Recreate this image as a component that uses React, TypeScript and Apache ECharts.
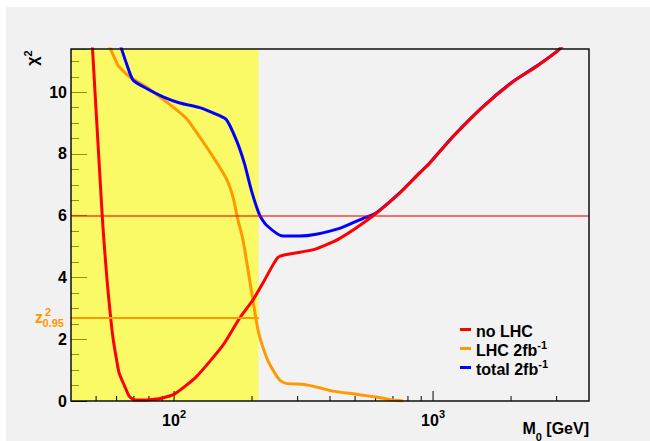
import { useEffect, useRef } from "react";
import * as echarts from "echarts";

const FONT = "'Liberation Sans', Arial, Helvetica, sans-serif";

// Axis ranges
const massRange = [40, 4000];
const chi2Range = [0, 11.4];

// Series names as drawn in the legend
const seriesNames = ["no LHC", "LHC 2fb-1", "total 2fb-1"];

// no LHC
const noLhcMass = [47.9, 50, 52.8, 53.6, 55.2, 56.9, 58.2, 59.8, 61.4, 64.6, 67.1, 70.6, 80, 89.4, 100.6, 122, 154.5, 179, 201.6, 223.7, 251.6, 279, 348.7, 435, 585, 741, 885, 968, 1191, 1555, 2029, 2495, 3020, 3200];
const noLhcChi2 = [12.1, 9.4, 6.0, 5.2, 3.85, 2.7, 2.0, 1.4, 0.9, 0.46, 0.16, 0.03, 0.04, 0.09, 0.23, 0.79, 1.81, 2.68, 3.27, 3.92, 4.65, 4.76, 4.91, 5.26, 5.99, 6.72, 7.37, 7.69, 8.55, 9.52, 10.33, 10.82, 11.33, 11.55];

// LHC 2 fb^-1
const lhcMass = [55.3, 56.9, 60.8, 67.4, 78.3, 88.1, 99.1, 111.6, 125.6, 141.4, 159, 168.8, 176.5, 184.6, 198.7, 210.9, 227, 240.8, 255.6, 271, 314, 364.6, 410, 504, 621, 698, 765];
const lhcChi2 = [11.6, 11.4, 10.87, 10.5, 10.17, 9.85, 9.52, 9.15, 8.55, 7.91, 7.21, 6.61, 5.86, 5.21, 3.59, 2.3, 1.43, 1.0, 0.68, 0.57, 0.54, 0.43, 0.32, 0.22, 0.11, 0.03, 0.0];

// total 2 fb^-1
const totalMass = [61.2, 62.7, 65.5, 69.5, 78.3, 90.7, 105.2, 125.6, 141.4, 159, 174, 187, 198.7, 214, 227, 263, 305, 354, 435, 535, 600, 741, 885, 968, 1191, 1555, 2029, 2495, 3020, 3200];
const totalChi2 = [11.66, 11.4, 10.93, 10.39, 10.12, 9.85, 9.65, 9.5, 9.33, 9.12, 8.45, 7.69, 6.83, 6.02, 5.7, 5.34, 5.34, 5.4, 5.59, 5.91, 6.08, 6.73, 7.38, 7.7, 8.56, 9.53, 10.34, 10.83, 11.34, 11.56];

// Shaded mass band, reference levels
const excludedBand = [40, 212];
const chi2Threshold = 6;
const z2Level = 2.71;

// Mass axis ticks (GeV)
const majorMassTicks = [100, 1000];
const minorMassTicks = [50, 60, 70, 80, 90, 200, 300, 400, 500, 600, 700, 800, 900, 2000, 3000];

const RED = "#ff0000";
const ORANGE = "#ff9900";
const BLUE = "#0000ff";

const zip = (xs: number[], ys: number[]) => xs.map((x, i) => [x, ys[i]]);

const legendRich: Record<string, string> = {
  "no LHC": "{t|no LHC}",
  "LHC 2fb-1": "{t|LHC 2fb}{s|-1}",
  "total 2fb-1": "{t|total 2fb}{s|-1}",
};

export default function App() {
  const ref = useRef<HTMLDivElement>(null);

  useEffect(() => {
    if (!ref.current) return;
    const chart = echarts.init(ref.current, null, { renderer: "svg" });

    const lineSeries = (name: string, color: string, data: number[][], extra: any = {}) => ({
      type: "line",
      name,
      data,
      showSymbol: false,
      symbol: "none",
      smooth: 0.2,
      clip: true,
      silent: true,
      color,
      lineStyle: { color, width: 3 },
      emphasis: { disabled: true },
      z: 2,
      ...extra,
    });

    const option: any = {
      animation: false,
      backgroundColor: "#f1f1f1",
      textStyle: { fontFamily: FONT },
      grid: {
        left: 65,
        top: 42,
        width: 518,
        height: 352,
        show: true,
        backgroundColor: "#f2f2f2",
        borderWidth: 0,
        containLabel: false,
        outerBoundsMode: "none",
      },
      legend: {
        data: seriesNames,
        orient: "vertical",
        left: 454,
        top: 316,
        padding: 0,
        itemGap: 0,
        itemWidth: 11,
        itemHeight: 3,
        icon: "rect",
        selectedMode: false,
        itemStyle: { borderWidth: 0 },
        formatter: (name: string) => legendRich[name] ?? name,
        textStyle: {
          color: "#000",
          fontFamily: FONT,
          fontSize: 16,
          fontWeight: "bold",
          rich: {
            t: { fontFamily: FONT, fontSize: 16, fontWeight: "bold", color: "#000", lineHeight: 19, verticalAlign: "bottom" },
            s: { fontFamily: FONT, fontSize: 11, fontWeight: "bold", color: "#000", lineHeight: 11, verticalAlign: "top" },
          },
        },
      },
      xAxis: {
        type: "log",
        logBase: 10,
        min: massRange[0],
        max: massRange[1],
        axisLine: { show: false },
        axisTick: { show: false },
        minorTick: { show: false },
        splitLine: { show: false },
        axisLabel: {
          show: true,
          margin: 7,
          showMinLabel: false,
          showMaxLabel: false,
          formatter: (v: number) => {
            const e = Math.log10(v);
            const r = Math.round(e);
            if (Math.abs(e - r) > 1e-6) return "";
            return "{b|10}{s|" + r + "}";
          },
          rich: {
            b: { fontFamily: FONT, fontSize: 16, fontWeight: "bold", color: "#000", lineHeight: 20, verticalAlign: "bottom" },
            s: { fontFamily: FONT, fontSize: 11, fontWeight: "bold", color: "#000", lineHeight: 8, verticalAlign: "top" },
          },
        },
      },
      yAxis: [
        {
          type: "value",
          position: "left",
          min: chi2Range[0],
          max: chi2Range[1],
          interval: 0.5,
          axisLine: { show: false },
          axisTick: { show: true, inside: true, length: 8, lineStyle: { color: "#000", width: 1 } },
          axisLabel: { show: false },
          splitLine: { show: false },
        },
        {
          type: "value",
          position: "left",
          offset: 0,
          min: chi2Range[0],
          max: chi2Range[1],
          interval: 2,
          axisLine: { show: false },
          axisTick: { show: true, inside: true, length: 16, lineStyle: { color: "#000", width: 1 } },
          axisLabel: {
            show: true,
            margin: 4,
            color: "#000",
            fontFamily: FONT,
            fontSize: 16,
            fontWeight: "bold",
            formatter: (v: number) => (Math.abs(v / 2 - Math.round(v / 2)) < 1e-6 ? String(v) : ""),
          },
          splitLine: { show: false },
        },
      ],
      series: [
        // mass-axis tick marks, kept under the shaded band
        {
          type: "custom",
          name: "massTicks",
          silent: true,
          z: 1,
          data: [[100, 1]],
          renderItem: (_params: any, api: any) => {
            const children: any[] = [];
            const add = (m: number, len: number) => {
              const p = api.coord([m, chi2Range[0]]);
              children.push({
                type: "line",
                shape: { x1: p[0], y1: p[1], x2: p[0], y2: p[1] - len },
                style: { stroke: "#000", lineWidth: 1 },
              });
            };
            majorMassTicks.forEach((m) => add(m, 10));
            minorMassTicks.forEach((m) => add(m, 5));
            return { type: "group", children };
          },
        },
        lineSeries(seriesNames[1], ORANGE, zip(lhcMass, lhcChi2), {
          markArea: {
            silent: true,
            itemStyle: { color: "rgba(255,255,0,0.58)", borderWidth: 0 },
            label: { show: false },
            data: [[{ xAxis: excludedBand[0] }, { xAxis: excludedBand[1] }]],
          },
          markLine: {
            silent: true,
            symbol: ["none", "none"],
            label: { show: false },
            emphasis: { disabled: true },
            data: [
              { yAxis: chi2Threshold, lineStyle: { color: "rgba(255,0,0,0.55)", width: 2, type: "solid" } },
              [
                { coord: [excludedBand[0], z2Level], lineStyle: { color: ORANGE, width: 2, type: "solid" } },
                { coord: [excludedBand[1], z2Level] },
              ],
            ],
          },
        }),
        lineSeries(seriesNames[2], BLUE, zip(totalMass, totalChi2)),
        lineSeries(seriesNames[0], RED, zip(noLhcMass, noLhcChi2)),
        // plot frame and the z^2_0.95 level label
        {
          type: "custom",
          name: "frame",
          silent: true,
          z: 5,
          data: [[100, 1]],
          renderItem: (params: any, api: any) => {
            const cs = params.coordSys;
            const p = api.coord([massRange[0], z2Level]);
            const txt = (text: string, x: number, y: number, size: number, align: string) => ({
              type: "text",
              x,
              y,
              style: {
                text,
                fill: ORANGE,
                font: `bold ${size}px ${FONT}`,
                align,
                textAlign: align,
                verticalAlign: "middle",
                textVerticalAlign: "middle",
              },
            });
            return {
              type: "group",
              children: [
                {
                  type: "rect",
                  shape: { x: cs.x, y: cs.y, width: cs.width, height: cs.height },
                  style: { fill: "none", stroke: "#111", lineWidth: 1.5 },
                },
                txt("z", p[0] - 28, p[1] + 0.5, 16, "right"),
                txt("2", p[0] - 26, p[1] - 5, 11, "left"),
                txt("0.95", p[0] - 28.5, p[1] + 5.6, 11, "left"),
              ],
            };
          },
        },
      ],
      graphic: [
        {
          type: "text",
          x: 25,
          y: 51,
          rotation: Math.PI / 2,
          style: {
            text: "{c|χ}{s|2}",
            align: "center",
            textAlign: "center",
            verticalAlign: "middle",
            textVerticalAlign: "middle",
            rich: {
              c: { fontFamily: FONT, fontSize: 16, fontWeight: "bold", fill: "#000", lineHeight: 18, verticalAlign: "bottom" },
              s: { fontFamily: FONT, fontSize: 11, fontWeight: "bold", fill: "#000", lineHeight: 8, verticalAlign: "top" },
            },
          },
        },
        {
          type: "text",
          x: 583,
          y: 413,
          style: {
            text: "{m|M}{u|0}{m| [GeV]}",
            align: "right",
            textAlign: "right",
            verticalAlign: "top",
            textVerticalAlign: "top",
            rich: {
              m: { fontFamily: FONT, fontSize: 16, fontWeight: "bold", fill: "#000", lineHeight: 22, verticalAlign: "top" },
              u: { fontFamily: FONT, fontSize: 11, fontWeight: "bold", fill: "#000", lineHeight: 12, verticalAlign: "bottom" },
            },
          },
        },
      ],
    };

    chart.setOption(option);
    return () => chart.dispose();
  }, []);

  return (
    <div style={{ position: "fixed", left: 0, top: 0, width: 650, height: 441, background: "#ffffff" }}>
      <div ref={ref} style={{ position: "absolute", left: 6, top: 7, width: 644, height: 434 }} />
    </div>
  );
}
